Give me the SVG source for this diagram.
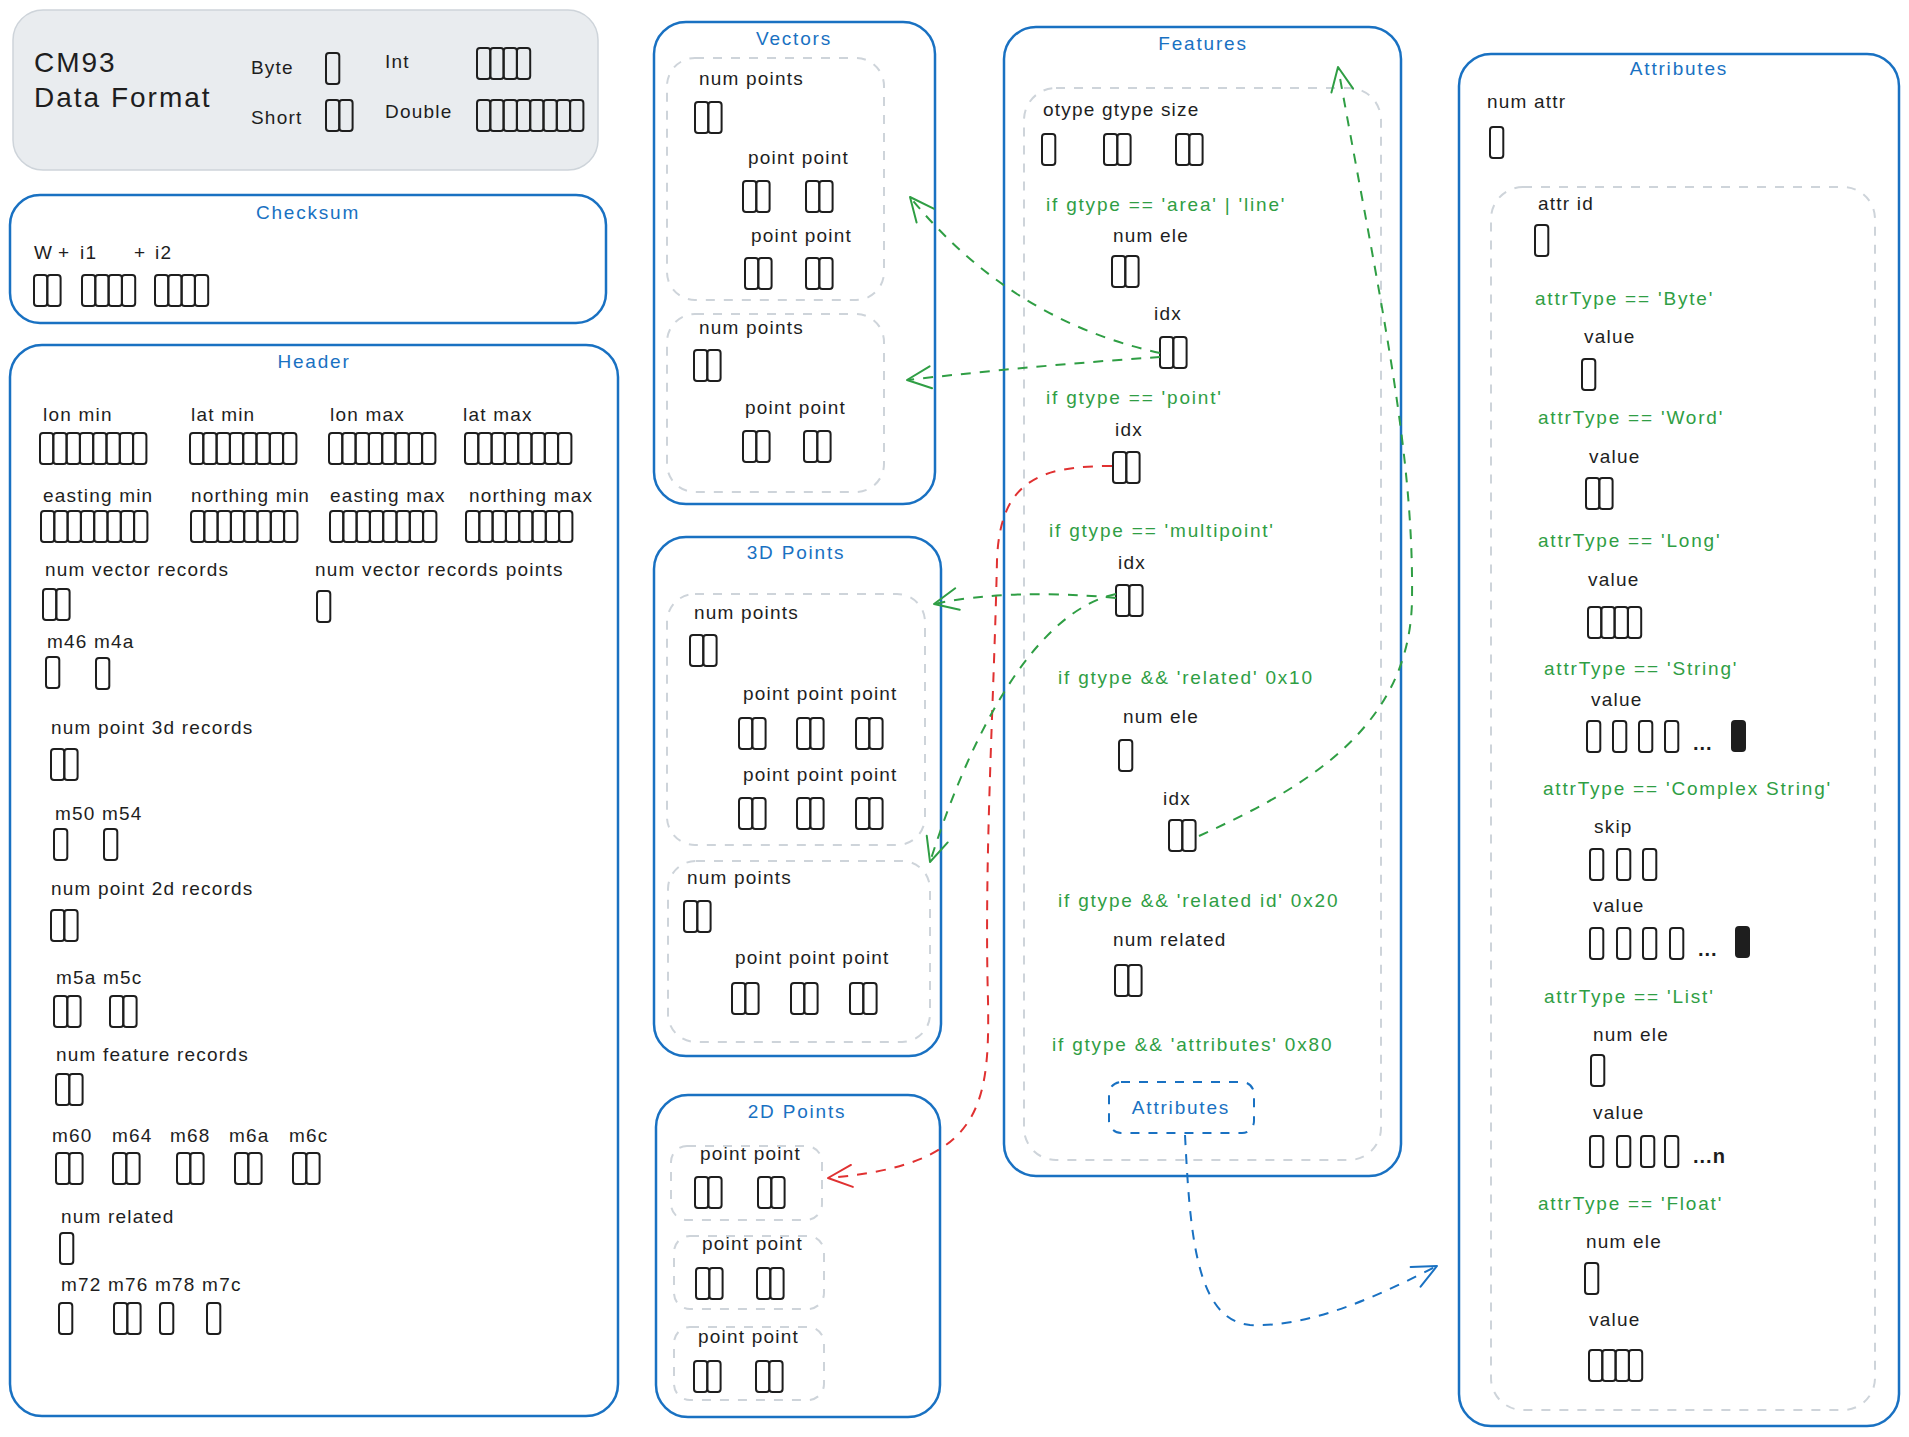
<svg xmlns="http://www.w3.org/2000/svg" width="1909" height="1437" viewBox="0 0 1909 1437">
<style>
text{font-family:"Liberation Sans",Arial,sans-serif}
.l{font-size:19px;letter-spacing:1.2px;fill:#1e1e1e}
.g{font-size:19px;letter-spacing:1.8px;fill:#2f9e44}
.t{font-size:19px;letter-spacing:1.8px;fill:#1971c2;text-anchor:middle}
.big{font-size:28px;letter-spacing:2px;fill:#1e1e1e}
.dots{font-size:20px;font-weight:bold;letter-spacing:1px;fill:#1e1e1e}
.c{fill:none;stroke:#1e1e1e;stroke-width:2}
.f{fill:#1e1e1e;stroke:#1e1e1e;stroke-width:2}
.box{fill:none;stroke:#1971c2;stroke-width:2.5}
.legend{fill:#e9ecef;stroke:#ced4da;stroke-width:1.5}
.in{fill:none;stroke:#ced4da;stroke-width:2;stroke-dasharray:9 9}
.inb{fill:none;stroke:#1971c2;stroke-width:2;stroke-dasharray:9 9}
.cg{fill:none;stroke:#2f9e44;stroke-width:2;stroke-dasharray:10 9;marker-end:url(#mg)}
.cr{fill:none;stroke:#e03131;stroke-width:2;stroke-dasharray:10 9;marker-end:url(#mr)}
.cb{fill:none;stroke:#1971c2;stroke-width:2;stroke-dasharray:10 9;marker-end:url(#mb)}
</style>
<defs>
<g id="b1"><rect class="c" x="0" y="0" width="13.3" height="31" rx="3"/></g>
<g id="b2"><rect class="c" x="0" y="0" width="13.3" height="31" rx="3"/><rect class="c" x="13.3" y="0" width="13.3" height="31" rx="3"/></g>
<g id="b4"><use href="#b2"/><use href="#b2" x="26.6"/></g>
<g id="b8"><use href="#b4"/><use href="#b4" x="53.2"/></g>
<rect id="bf" class="f" x="0" y="0" width="13" height="30" rx="3"/>
<marker id="mg" viewBox="-28 -14 32 28" refX="0" refY="0" markerWidth="32" markerHeight="28" markerUnits="userSpaceOnUse" orient="auto" overflow="visible"><path d="M-24,-11 L0,0 L-24,11" fill="none" stroke="#2f9e44" stroke-width="2" stroke-linecap="round" stroke-linejoin="round"/></marker>
<marker id="mr" viewBox="-28 -14 32 28" refX="0" refY="0" markerWidth="32" markerHeight="28" markerUnits="userSpaceOnUse" orient="auto" overflow="visible"><path d="M-24,-11 L0,0 L-24,11" fill="none" stroke="#e03131" stroke-width="2" stroke-linecap="round" stroke-linejoin="round"/></marker>
<marker id="mb" viewBox="-28 -14 32 28" refX="0" refY="0" markerWidth="32" markerHeight="28" markerUnits="userSpaceOnUse" orient="auto" overflow="visible"><path d="M-24,-11 L0,0 L-24,11" fill="none" stroke="#1971c2" stroke-width="2" stroke-linecap="round" stroke-linejoin="round"/></marker>
</defs>
<rect x="0" y="0" width="1909" height="1437" fill="#ffffff"/>

<g id="legend">
<rect class="legend" x="13" y="10" width="585" height="160" rx="30"/>
<text class="big" x="34" y="72">CM93</text>
<text class="big" x="34" y="107">Data Format</text>
<text class="l" x="251" y="74">Byte</text>
<use href="#b1" x="326" y="53"/>
<text class="l" x="251" y="124">Short</text>
<use href="#b2" x="326" y="100"/>
<text class="l" x="385" y="68">Int</text>
<use href="#b4" x="477" y="48"/>
<text class="l" x="385" y="118">Double</text>
<use href="#b8" x="477" y="100"/>
</g>

<g id="checksum">
<rect class="box" x="10" y="195" width="596" height="128" rx="30"/>
<text class="t" x="308" y="219">Checksum</text>
<text class="l" y="259"><tspan x="34">W</tspan><tspan x="58">+</tspan><tspan x="80">i1</tspan></text>
<text class="l" y="259"><tspan x="134">+</tspan><tspan x="155">i2</tspan></text>
<use href="#b2" x="34" y="275"/>
<use href="#b4" x="82" y="275"/>
<use href="#b4" x="155" y="275"/>
</g>

<g id="header">
<rect class="box" x="10" y="345" width="608" height="1071" rx="32"/>
<text class="t" x="314" y="368">Header</text>
<text class="l" x="43" y="421">lon min</text>
<text class="l" x="191" y="421">lat min</text>
<text class="l" x="330" y="421">lon max</text>
<text class="l" x="463" y="421">lat max</text>
<use href="#b8" x="40" y="433"/>
<use href="#b8" x="190" y="433"/>
<use href="#b8" x="329" y="433"/>
<use href="#b8" x="465" y="433"/>
<text class="l" x="43" y="502">easting min</text>
<text class="l" x="191" y="502">northing min</text>
<text class="l" x="330" y="502">easting max</text>
<text class="l" x="469" y="502">northing max</text>
<use href="#b8" x="41" y="511"/>
<use href="#b8" x="191" y="511"/>
<use href="#b8" x="330" y="511"/>
<use href="#b8" x="466" y="511"/>
<text class="l" x="45" y="576">num vector records</text>
<text class="l" x="315" y="576">num vector records points</text>
<use href="#b2" x="43" y="589"/>
<use href="#b1" x="317" y="591"/>
<text class="l" x="47" y="648">m46 m4a</text>
<use href="#b1" x="46" y="657"/>
<use href="#b1" x="96" y="658"/>
<text class="l" x="51" y="734">num point 3d records</text>
<use href="#b2" x="51" y="749"/>
<text class="l" x="55" y="820">m50 m54</text>
<use href="#b1" x="54" y="829"/>
<use href="#b1" x="104" y="829"/>
<text class="l" x="51" y="895">num point 2d records</text>
<use href="#b2" x="51" y="910"/>
<text class="l" x="56" y="984">m5a m5c</text>
<use href="#b2" x="54" y="996"/>
<use href="#b2" x="110" y="996"/>
<text class="l" x="56" y="1061">num feature records</text>
<use href="#b2" x="56" y="1074"/>
<text class="l" x="52" y="1142">m60</text>
<text class="l" x="112" y="1142">m64</text>
<text class="l" x="170" y="1142">m68</text>
<text class="l" x="229" y="1142">m6a</text>
<text class="l" x="289" y="1142">m6c</text>
<use href="#b2" x="56" y="1153"/>
<use href="#b2" x="113" y="1153"/>
<use href="#b2" x="177" y="1153"/>
<use href="#b2" x="235" y="1153"/>
<use href="#b2" x="293" y="1153"/>
<text class="l" x="61" y="1223">num related</text>
<use href="#b1" x="60" y="1233"/>
<text class="l" x="61" y="1291">m72 m76 m78 m7c</text>
<use href="#b1" x="59" y="1303"/>
<use href="#b2" x="114" y="1303"/>
<use href="#b1" x="160" y="1303"/>
<use href="#b1" x="207" y="1303"/>
</g>

<g id="vectors">
<rect class="box" x="654" y="22" width="281" height="482" rx="32"/>
<text class="t" x="794" y="45">Vectors</text>
<rect class="in" x="667" y="58" width="217" height="242" rx="28"/>
<text class="l" x="699" y="85">num points</text>
<use href="#b2" x="695" y="102"/>
<text class="l" x="748" y="164">point point</text>
<use href="#b2" x="743" y="181"/>
<use href="#b2" x="806" y="181"/>
<text class="l" x="751" y="242">point point</text>
<use href="#b2" x="745" y="258"/>
<use href="#b2" x="806" y="258"/>
<rect class="in" x="667" y="314" width="217" height="178" rx="28"/>
<text class="l" x="699" y="334">num points</text>
<use href="#b2" x="694" y="350"/>
<text class="l" x="745" y="414">point point</text>
<use href="#b2" x="743" y="431"/>
<use href="#b2" x="804" y="431"/>
</g>

<g id="points3d">
<rect class="box" x="654" y="537" width="287" height="519" rx="32"/>
<text class="t" x="796" y="559">3D Points</text>
<rect class="in" x="667" y="594" width="258" height="251" rx="28"/>
<text class="l" x="694" y="619">num points</text>
<use href="#b2" x="690" y="635"/>
<text class="l" x="743" y="700">point point point</text>
<use href="#b2" x="739" y="718"/>
<use href="#b2" x="797" y="718"/>
<use href="#b2" x="856" y="718"/>
<text class="l" x="743" y="781">point point point</text>
<use href="#b2" x="739" y="798"/>
<use href="#b2" x="797" y="798"/>
<use href="#b2" x="856" y="798"/>
<rect class="in" x="668" y="861" width="262" height="181" rx="28"/>
<text class="l" x="687" y="884">num points</text>
<use href="#b2" x="684" y="901"/>
<text class="l" x="735" y="964">point point point</text>
<use href="#b2" x="732" y="983"/>
<use href="#b2" x="791" y="983"/>
<use href="#b2" x="850" y="983"/>
</g>

<g id="points2d">
<rect class="box" x="656" y="1095" width="284" height="322" rx="32"/>
<text class="t" x="797" y="1118">2D Points</text>
<rect class="in" x="671" y="1146" width="151" height="74" rx="16"/>
<text class="l" x="700" y="1160">point point</text>
<use href="#b2" x="695" y="1177"/>
<use href="#b2" x="758" y="1177"/>
<rect class="in" x="674" y="1236" width="150" height="73" rx="16"/>
<text class="l" x="702" y="1250">point point</text>
<use href="#b2" x="696" y="1268"/>
<use href="#b2" x="757" y="1268"/>
<rect class="in" x="674" y="1327" width="150" height="73" rx="16"/>
<text class="l" x="698" y="1343">point point</text>
<use href="#b2" x="694" y="1361"/>
<use href="#b2" x="756" y="1361"/>
</g>

<g id="features">
<rect class="box" x="1004" y="27" width="397" height="1149" rx="32"/>
<text class="t" x="1203" y="50">Features</text>
<rect class="in" x="1024" y="88" width="357" height="1072" rx="32"/>
<text class="l" x="1043" y="116">otype gtype size</text>
<use href="#b1" x="1042" y="134"/>
<use href="#b2" x="1104" y="134"/>
<use href="#b2" x="1176" y="134"/>
<text class="g" x="1046" y="211">if gtype == 'area' | 'line'</text>
<text class="l" x="1113" y="242">num ele</text>
<use href="#b2" x="1112" y="256"/>
<text class="l" x="1154" y="320">idx</text>
<use href="#b2" x="1160" y="337"/>
<text class="g" x="1046" y="404">if gtype == 'point'</text>
<text class="l" x="1115" y="436">idx</text>
<use href="#b2" x="1113" y="452"/>
<text class="g" x="1049" y="537">if gtype == 'multipoint'</text>
<text class="l" x="1118" y="569">idx</text>
<use href="#b2" x="1116" y="585"/>
<text class="g" x="1058" y="684">if gtype &amp;&amp; 'related' 0x10</text>
<text class="l" x="1123" y="723">num ele</text>
<use href="#b1" x="1119" y="740"/>
<text class="l" x="1163" y="805">idx</text>
<use href="#b2" x="1169" y="820"/>
<text class="g" x="1058" y="907">if gtype &amp;&amp; 'related id' 0x20</text>
<text class="l" x="1113" y="946">num related</text>
<use href="#b2" x="1115" y="965"/>
<text class="g" x="1052" y="1051">if gtype &amp;&amp; 'attributes' 0x80</text>
<g id="attributes-ref">
<rect class="inb" x="1109" y="1082" width="145" height="51" rx="12"/>
<text class="t" x="1181" y="1114">Attributes</text>
</g>
</g>

<g id="attributes">
<rect class="box" x="1459" y="54" width="440" height="1372" rx="32"/>
<text class="t" x="1679" y="75">Attributes</text>
<text class="l" x="1487" y="108">num attr</text>
<use href="#b1" x="1490" y="127"/>
<rect class="in" x="1491" y="187" width="384" height="1223" rx="32"/>
<text class="l" x="1538" y="210">attr id</text>
<use href="#b1" x="1535" y="225"/>
<text class="g" x="1535" y="305">attrType == 'Byte'</text>
<text class="l" x="1584" y="343">value</text>
<use href="#b1" x="1582" y="359"/>
<text class="g" x="1538" y="424">attrType == 'Word'</text>
<text class="l" x="1589" y="463">value</text>
<use href="#b2" x="1586" y="478"/>
<text class="g" x="1538" y="547">attrType == 'Long'</text>
<text class="l" x="1588" y="586">value</text>
<use href="#b4" x="1588" y="607"/>
<text class="g" x="1544" y="675">attrType == 'String'</text>
<text class="l" x="1591" y="706">value</text>
<use href="#b1" x="1587" y="721"/>
<use href="#b1" x="1613" y="721"/>
<use href="#b1" x="1639" y="721"/>
<use href="#b1" x="1665" y="721"/>
<text class="dots" x="1693" y="750">...</text>
<use href="#bf" x="1732" y="721"/>
<text class="g" x="1543" y="795">attrType == 'Complex String'</text>
<text class="l" x="1594" y="833">skip</text>
<use href="#b1" x="1590" y="849"/>
<use href="#b1" x="1617" y="849"/>
<use href="#b1" x="1643" y="849"/>
<text class="l" x="1593" y="912">value</text>
<use href="#b1" x="1590" y="928"/>
<use href="#b1" x="1617" y="928"/>
<use href="#b1" x="1643" y="928"/>
<use href="#b1" x="1670" y="928"/>
<text class="dots" x="1698" y="956">...</text>
<use href="#bf" x="1736" y="927"/>
<text class="g" x="1544" y="1003">attrType == 'List'</text>
<text class="l" x="1593" y="1041">num ele</text>
<use href="#b1" x="1591" y="1055"/>
<text class="l" x="1593" y="1119">value</text>
<use href="#b1" x="1590" y="1136"/>
<use href="#b1" x="1617" y="1136"/>
<use href="#b1" x="1641" y="1136"/>
<use href="#b1" x="1665" y="1136"/>
<text class="dots" x="1693" y="1163">...n</text>
<text class="g" x="1538" y="1210">attrType == 'Float'</text>
<text class="l" x="1586" y="1248">num ele</text>
<use href="#b1" x="1585" y="1263"/>
<text class="l" x="1589" y="1326">value</text>
<use href="#b4" x="1589" y="1350"/>
</g>

<g id="connectors">
<path class="cg" d="M1160,353 Q1010,320 910,197"/>
<path class="cg" d="M1160,357 Q1040,365 907,380"/>
<path class="cr" d="M1112,466 C1040,466 1000,480 997,560 C994,700 984,860 988,1000 C990,1110 980,1165 828,1178"/>
<path class="cg" d="M1116,598 Q1010,588 934,604"/>
<path class="cg" d="M1116,594 C1040,610 975,720 930,862"/>
<path class="cg" d="M1199,836 C1300,790 1410,730 1412,600 C1414,450 1380,300 1338,67"/>
<path class="cb" d="M1185,1135 C1190,1230 1195,1320 1250,1325 C1310,1328 1380,1295 1437,1266"/>
</g>
</svg>
